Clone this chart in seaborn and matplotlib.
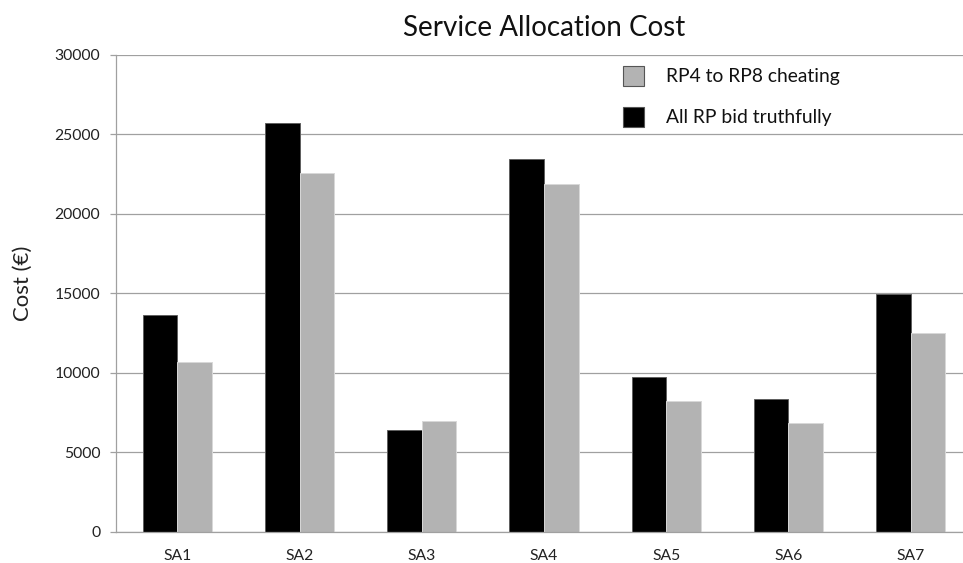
import matplotlib
matplotlib.use("Agg")
import matplotlib.pyplot as plt
from matplotlib.patches import Patch
import seaborn as sns
import pandas as pd

# Service allocation cost per service area, two bidding scenarios
categories = ["SA1", "SA2", "SA3", "SA4", "SA5", "SA6", "SA7"]
truthful = [13600, 25700, 6400, 23450, 9700, 8330, 14950]
cheating = [10700, 22600, 6950, 21850, 8200, 6830, 12500]
series_names = ["All RP bid truthfully", "RP4 to RP8 cheating"]
y_ticks = [0, 5000, 10000, 15000, 20000, 25000, 30000]

BLACK = "#000000"
GREY = "#b3b3b3"
GRID = "#a0a0a0"

df = pd.DataFrame({
    "category": categories * 2,
    "series": [series_names[0]] * len(categories) + [series_names[1]] * len(categories),
    "value": truthful + cheating,
})

sns.set_theme(style="white")
plt.rcParams["font.family"] = ["Lato", "DejaVu Sans"]

W, H = 963, 563
fig = plt.figure(figsize=(W / 100, H / 100), dpi=100)
# plot area: left axis at x=116, category pitch ~122 px, runs past the right edge
ax = fig.add_axes([116.3 / W, (H - 531.5) / H, 7 * 122.2 / W, 476.5 / H])

sns.barplot(data=df, x="category", y="value", hue="series",
            hue_order=series_names, palette=[BLACK, GREY],
            width=0.566, ax=ax, legend=False, saturation=1)

edge_colors = ["#606060", "#d8d8d8"]
for cont, ec in zip(ax.containers, edge_colors):
    for bar in cont:
        bar.set_edgecolor(ec)
        bar.set_linewidth(0.7)

ax.set_xlim(-0.5, len(categories) - 0.5)
ax.set_ylim(0, 30000)
ax.set_yticks(y_ticks)
ax.set_yticklabels([str(v) for v in y_ticks], fontsize=11.3, color="#222222")
ax.yaxis.grid(True, color=GRID, linewidth=0.9)
ax.set_axisbelow(True)

# category labels centred, tick marks on the category boundaries
ax.set_xticks(range(len(categories)))
ax.set_xticklabels(categories, fontsize=11.3, color="#222222")
ax.set_xticks([i - 0.5 for i in range(len(categories) + 1)], minor=True)
ax.tick_params(axis="x", which="major", length=0, pad=12.5)
ax.tick_params(axis="x", which="minor", length=4, width=0.9, color=GRID, direction="out")
ax.tick_params(axis="y", which="major", length=4.5, width=0.9, color=GRID,
               direction="out", pad=7, left=True)

for side in ["top", "right"]:
    ax.spines[side].set_visible(False)
for side in ["left", "bottom"]:
    ax.spines[side].set_color(GRID)
    ax.spines[side].set_linewidth(0.9)

ax.set_xlabel("")
ax.set_ylabel("Cost (€)", fontsize=15.9, color="#222222")
ax.yaxis.set_label_coords(-0.097, 0.5215)
ax.set_title("Service Allocation Cost", fontsize=20, color="#111111", pad=14)

handles = [Patch(facecolor=GREY, edgecolor="#555555", linewidth=0.8),
           Patch(facecolor=BLACK, edgecolor="#555555", linewidth=0.8)]
labels = [series_names[1], series_names[0]]
ax.legend(handles, labels, loc="upper left",
          bbox_to_anchor=(623 / W, 1 - 66 / H), bbox_transform=fig.transFigure,
          frameon=False, fontsize=13.9, handlelength=1.1, handleheight=1.2,
          handletextpad=1.15, labelspacing=1.1, borderpad=0, borderaxespad=0,
          labelcolor="#111111")

fig.savefig("out.png", dpi=100)
